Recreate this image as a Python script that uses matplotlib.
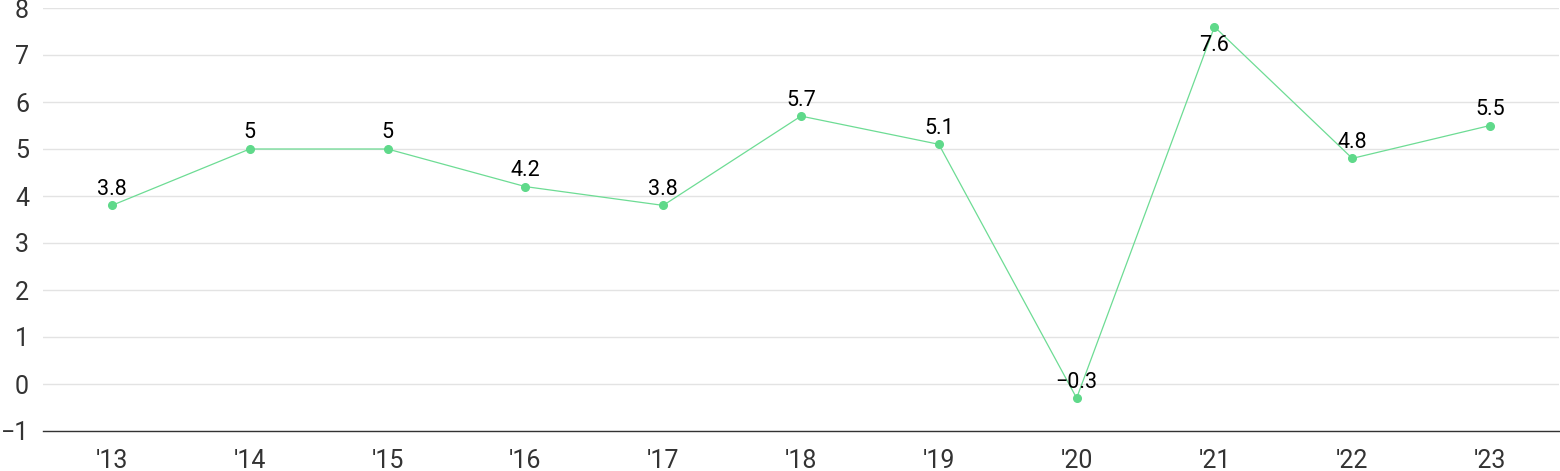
import numpy as np
import matplotlib.pyplot as plt

years = ["'13", "'14", "'15", "'16", "'17", "'18", "'19", "'20", "'21", "'22", "'23"]
values = [3.8, 5, 5, 4.2, 3.8, 5.7, 5.1, -0.3, 7.6, 4.8, 5.5]

plt.rcParams['font.family'] = ['Roboto', 'DejaVu Sans']

fig = plt.figure(figsize=(15.6, 4.71), dpi=100)
ax = fig.add_axes([43/1560, 40/471, 1516/1560, 423/471])

x = np.arange(len(years))
ax.plot(x, values, color='#6ddc94', lw=0.9, marker='o', ms=5.5,
        mfc='#5fd98a', mec='#5fd98a', zorder=3, clip_on=False)

for xi, v in zip(x, values):
    label = str(v).replace('-', '\u2212')
    if v > 7.3:
        ax.annotate(label, (xi, v), xytext=(0, -6), textcoords='offset points',
                    ha='center', va='top', fontsize=15.5, color='black')
    else:
        ax.annotate(label, (xi, v), xytext=(0, 4), textcoords='offset points',
                    ha='center', va='bottom', fontsize=15.5, color='black')

ax.set_xlim(-0.5, len(years) - 0.5)
ax.set_ylim(-1, 8)
ax.set_yticks(range(-1, 9))
ax.set_yticklabels([str(t).replace('-', '\u2212') for t in range(-1, 9)])
ax.set_xticks(x)
ax.set_xticklabels(years)

ax.grid(axis='y', color='#e3e3e3', lw=1)
ax.set_axisbelow(True)
for s in ['top', 'right', 'left']:
    ax.spines[s].set_visible(False)
ax.spines['bottom'].set_color('#333333')
ax.spines['bottom'].set_linewidth(1)
ax.tick_params(axis='both', length=0, labelsize=18, colors='#333333')
ax.tick_params(axis='y', pad=10)
ax.tick_params(axis='x', pad=13)

fig.savefig('out.png', dpi=100)
